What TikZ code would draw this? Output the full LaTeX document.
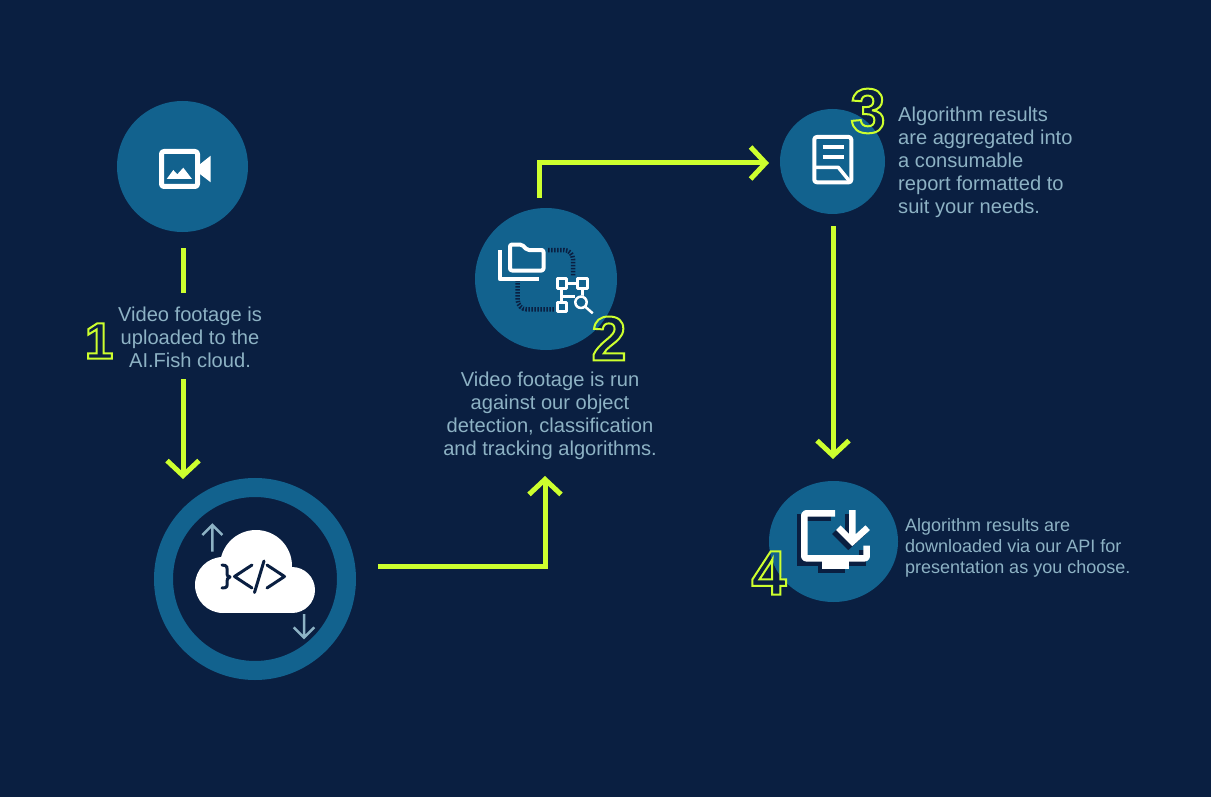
\documentclass[tikz,border=0pt]{standalone}
\usepackage{fontspec}
\setmainfont{Liberation Sans}
\usepackage{xcolor}
\usetikzlibrary{arrows.meta,shapes.geometric}
\definecolor{darknavy}{HTML}{0A1F41}
\definecolor{teal}{HTML}{12628E}
\definecolor{lime}{HTML}{CDFF2E}
\definecolor{paleblue}{HTML}{8DB2C4}
\newcommand{\outlinedigit}[1]{\special{pdf:code 1 Tr 2 w}#1}
\tikzset{
    stepcircle/.style={circle, fill=teal, inner sep=0pt},
    flowline/.style={line width=5pt, lime},
    flowarrow/.style={flowline, -{Straight Barb[length=15pt, width=32pt, line width=5pt]}},
    steptext/.style={text=paleblue, inner sep=0pt, font=\fontsize{20.1}{23}\selectfont},
    stepdigit/.style={text=lime, inner sep=0pt, font=\bfseries\fontsize{63}{63}\selectfont},
    iconline/.style={line width=#1, white, line join=round},
    iconline/.default=4pt,
    codeline/.style={line width=3pt, darknavy, line cap=round, line join=round},
    smallarrow/.style={line width=2.5pt, paleblue, line join=miter}
}
\begin{document}
\begin{tikzpicture}[x=1pt, y=-1pt]
    \useasboundingbox[fill=darknavy] (0,0) rectangle (1211,797);

    % ========== Circles ==========
    \node[stepcircle, minimum size=131pt] (video) at (182.5,166.5) {};
    \node[circle, draw=teal, line width=19pt, inner sep=0pt, minimum size=183pt] (cloudring) at (255,579) {};
    \node[stepcircle, minimum size=142pt] (detect) at (546,279) {};
    \node[stepcircle, minimum size=105pt] (report) at (832.5,161.5) {};
    \node[ellipse, fill=teal, inner sep=0pt, minimum width=129pt, minimum height=121pt] (download) at (833.5,541.5) {};

    % ========== Texts ==========
    \node[steptext, align=center] (videotext) at (190,337) {Video footage is\\uploaded to the\\AI.Fish cloud.};
    \node[steptext, align=center] (detecttext) at (550,415.5) {Video footage is run\\against our object\\detection, classification\\and tracking algorithms.};
    \node[steptext, align=left, anchor=west] (reporttext) at (898,162) {Algorithm results\\are aggregated into\\a consumable\\report formatted to\\suit your needs.};
    \node[steptext, align=left, anchor=west, font=\fontsize{18}{21}\selectfont] (downloadtext) at (905,548) {Algorithm results are\\downloaded via our API for\\presentation as you choose.};

    % ========== Connectors ==========
    \coordinate (videoout) at (183,248);
    \coordinate (textin) at (183,293);
    \coordinate (textout) at (183,379);
    \coordinate (ringin) at (183,479);
    \coordinate (ringout) at (378,566);
    \coordinate (detectin) at (545,476);
    \coordinate (detectout) at (539,198);
    \coordinate (reportin) at (769,163);
    \coordinate (reportout) at (833,226);
    \coordinate (downloadin) at (833,459);
    \draw[flowline] (videoout) -- (textin);
    \draw[flowarrow] (textout) -- (ringin);
    \draw[flowarrow] (ringout) -| (detectin);
    \draw[flowarrow] (detectout) |- (reportin);
    \draw[flowarrow] (reportout) -- (downloadin);

    % ========== Camera ==========
    \draw[iconline=5pt, rounded corners=2.5pt] (161.5,151.5) rectangle (197.5,186.5);
    \fill[white] (199,165) -- (210.7,155.7) -- (210.7,182.3) -- (199,173.3) -- cycle;
    \fill[white] (166.7,179) -- (173.3,170) -- (177.3,174.3) -- (183.3,167.7) -- (192,179) -- cycle;

    % ========== Cloud ==========
    \fill[white] (223,585) circle (28pt);
    \fill[white] (256,566) circle (36pt);
    \fill[white] (292,590) circle (23pt);
    \fill[white] (223,575) rectangle (292,613);
    \draw[codeline] (252,565) -- (234.5,576.5) -- (252,588);
    \draw[codeline] (264,561) -- (254.5,592.5);
    \draw[codeline] (267,565) -- (284.5,576.5) -- (267,588);
    \draw[codeline] (222,565) .. controls (228,565) and (227,568) .. (227,571) .. controls (227,575) and (227,577) .. (230,577) .. controls (227,577) and (227,580) .. (227,583) .. controls (227,586) and (228,588) .. (222,588);
    \draw[smallarrow] (212.3,551.7) -- (212.3,525) (202.3,535) -- (212.3,525) -- (222.3,535);
    \draw[smallarrow] (304,614) -- (304,637.7) (293.7,627.3) -- (304,637.7) -- (314.3,627.3);

    % ========== Folder and tree ==========
    \draw[darknavy, line width=4.5pt, dash pattern=on 1.5pt off 1.5pt, rounded corners=9pt] (548,250) -- (573,250) -- (573,276);
    \draw[darknavy, line width=4.5pt, dash pattern=on 1.5pt off 1.5pt, rounded corners=9pt] (517.7,280) -- (517.7,309.3) -- (555,309.3);
    \draw[iconline=4pt, rounded corners=2pt] (510,244.5) -- (522,244.5) -- (527,250) -- (543.5,250) -- (543.5,270.5) -- (510,270.5) -- cycle;
    \draw[iconline=4pt] (499.8,250) -- (499.8,279) -- (539,279);
    \draw[iconline=3pt] (557,278.5) rectangle (566,288);
    \draw[iconline=3pt] (577.5,278.5) rectangle (587,288);
    \draw[iconline=3pt] (557,302.5) rectangle (566,311);
    \draw[iconline=3pt] (566,283) -- (577.5,283) (561.5,288) -- (561.5,302.5) (561.5,296.5) -- (575,296.5) (582,288) -- (582,296);
    \fill[teal] (581,302.3) circle (7pt);
    \draw[iconline=2.5pt] (581,302.3) circle (5.7pt) (585,306.5) -- (592.7,313.3);

    % ========== Report ==========
    \draw[iconline=4pt, rounded corners=2.5pt] (814.3,137) rectangle (851.3,182.3);
    \draw[iconline=3.5pt] (813,167.3) -- (838.3,167.3) -- (850,181.7);
    \draw[iconline=4pt] (822.7,146.7) -- (844,146.7);
    \draw[iconline=4pt] (822.7,157) -- (844,157);

    % ========== Monitor ==========
    \begin{scope}[shift={(-4,4)}]
        \draw[darknavy, line width=6.5pt] (835,513.3) -- (804.3,513.3) -- (804.3,558.3) -- (866.7,558.3) -- (866.7,545.7);
        \fill[darknavy] (821.7,561) rectangle (849,569);
        \draw[darknavy, line width=6.5pt] (852.3,510) -- (852.3,538.3) (838.3,527.7) -- (852.3,541.7) -- (867.7,527.7);
    \end{scope}
    \draw[iconline=6.5pt, rounded corners=2pt] (835,513.3) -- (804.3,513.3) -- (804.3,558.3) -- (866.7,558.3) -- (866.7,545.7);
    \fill[white] (821.7,561) rectangle (849,569);
    \draw[white, line width=6.5pt] (852.3,510) -- (852.3,538.3) (838.3,527.7) -- (852.3,541.7) -- (867.7,527.7);

    % ========== Digits ==========
    \node[stepdigit, font=\bfseries\fontsize{51}{51}\selectfont] (digitone) at (99,341) {\outlinedigit{1}};
    \node[stepdigit] (digittwo) at (609,338.5) {\outlinedigit{2}};
    \node[stepdigit] (digitthree) at (868,111) {\outlinedigit{3}};
    \node[stepdigit] (digitfour) at (769,573) {\outlinedigit{4}};
\end{tikzpicture}
\end{document}
